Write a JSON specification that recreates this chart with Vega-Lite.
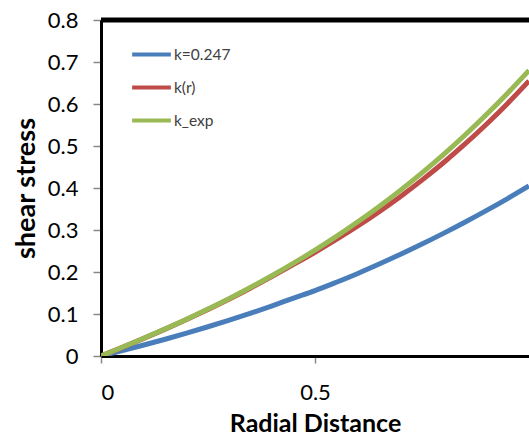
{
  "$schema": "https://vega.github.io/schema/vega-lite/v6.json",
  "width": 428,
  "height": 336,
  "autosize": {"type": "none"},
  "padding": {"left": 101, "top": 20, "right": 0, "bottom": 79},
  "background": "white",
  "config": {
    "view": {"stroke": null},
    "font": "Lato",
    "axis": {
      "grid": false,
      "domainColor": "black",
      "domainWidth": 3,
      "tickColor": "#888888",
      "tickWidth": 1.5,
      "labelFont": "Lato",
      "labelFontSize": 22,
      "labelColor": "black",
      "titleFont": "Lato",
      "titleFontWeight": "bold",
      "titleColor": "black"
    }
  },
  "datasets": {
    "curves": [
      {"r": 0, "tau": 0, "series": "k=0.247"},
      {"r": 0.05, "tau": 0.0128, "series": "k=0.247"},
      {"r": 0.1, "tau": 0.0261, "series": "k=0.247"},
      {"r": 0.15, "tau": 0.0399, "series": "k=0.247"},
      {"r": 0.2, "tau": 0.0544, "series": "k=0.247"},
      {"r": 0.25, "tau": 0.0696, "series": "k=0.247"},
      {"r": 0.3, "tau": 0.0855, "series": "k=0.247"},
      {"r": 0.35, "tau": 0.1021, "series": "k=0.247"},
      {"r": 0.4, "tau": 0.1195, "series": "k=0.247"},
      {"r": 0.45, "tau": 0.1378, "series": "k=0.247"},
      {"r": 0.5, "tau": 0.1555, "series": "k=0.247"},
      {"r": 0.55, "tau": 0.1755, "series": "k=0.247"},
      {"r": 0.6, "tau": 0.1965, "series": "k=0.247"},
      {"r": 0.65, "tau": 0.2189, "series": "k=0.247"},
      {"r": 0.7, "tau": 0.2422, "series": "k=0.247"},
      {"r": 0.75, "tau": 0.2665, "series": "k=0.247"},
      {"r": 0.8, "tau": 0.292, "series": "k=0.247"},
      {"r": 0.85, "tau": 0.3185, "series": "k=0.247"},
      {"r": 0.9, "tau": 0.3461, "series": "k=0.247"},
      {"r": 0.95, "tau": 0.3749, "series": "k=0.247"},
      {"r": 1.0, "tau": 0.405, "series": "k=0.247"},
      {"r": 0, "tau": 0, "series": "k(r)"},
      {"r": 0.05, "tau": 0.0206, "series": "k(r)"},
      {"r": 0.1, "tau": 0.0419, "series": "k(r)"},
      {"r": 0.15, "tau": 0.064, "series": "k(r)"},
      {"r": 0.2, "tau": 0.0869, "series": "k(r)"},
      {"r": 0.25, "tau": 0.1108, "series": "k(r)"},
      {"r": 0.3, "tau": 0.1357, "series": "k(r)"},
      {"r": 0.35, "tau": 0.162, "series": "k(r)"},
      {"r": 0.4, "tau": 0.1895, "series": "k(r)"},
      {"r": 0.45, "tau": 0.218, "series": "k(r)"},
      {"r": 0.5, "tau": 0.247, "series": "k(r)"},
      {"r": 0.55, "tau": 0.2774, "series": "k(r)"},
      {"r": 0.6, "tau": 0.3095, "series": "k(r)"},
      {"r": 0.65, "tau": 0.3437, "series": "k(r)"},
      {"r": 0.7, "tau": 0.38, "series": "k(r)"},
      {"r": 0.75, "tau": 0.4188, "series": "k(r)"},
      {"r": 0.8, "tau": 0.4601, "series": "k(r)"},
      {"r": 0.85, "tau": 0.5042, "series": "k(r)"},
      {"r": 0.9, "tau": 0.5512, "series": "k(r)"},
      {"r": 0.95, "tau": 0.6014, "series": "k(r)"},
      {"r": 1.0, "tau": 0.655, "series": "k(r)"},
      {"r": 0, "tau": 0, "series": "k_exp"},
      {"r": 0.05, "tau": 0.0209, "series": "k_exp"},
      {"r": 0.1, "tau": 0.0424, "series": "k_exp"},
      {"r": 0.15, "tau": 0.0646, "series": "k_exp"},
      {"r": 0.2, "tau": 0.0877, "series": "k_exp"},
      {"r": 0.25, "tau": 0.1119, "series": "k_exp"},
      {"r": 0.3, "tau": 0.1371, "series": "k_exp"},
      {"r": 0.35, "tau": 0.1637, "series": "k_exp"},
      {"r": 0.4, "tau": 0.1916, "series": "k_exp"},
      {"r": 0.45, "tau": 0.221, "series": "k_exp"},
      {"r": 0.5, "tau": 0.252, "series": "k_exp"},
      {"r": 0.55, "tau": 0.2848, "series": "k_exp"},
      {"r": 0.6, "tau": 0.3195, "series": "k_exp"},
      {"r": 0.65, "tau": 0.3562, "series": "k_exp"},
      {"r": 0.7, "tau": 0.395, "series": "k_exp"},
      {"r": 0.75, "tau": 0.4361, "series": "k_exp"},
      {"r": 0.8, "tau": 0.4796, "series": "k_exp"},
      {"r": 0.85, "tau": 0.5256, "series": "k_exp"},
      {"r": 0.9, "tau": 0.5743, "series": "k_exp"},
      {"r": 0.95, "tau": 0.6257, "series": "k_exp"},
      {"r": 1.0, "tau": 0.68, "series": "k_exp"}
    ]
  },
  "layer": [
    {
      "data": {"name": "curves"},
      "mark": {"type": "line", "strokeWidth": 5, "clip": true, "interpolate": "monotone"},
      "encoding": {
        "x": {
          "field": "r",
          "type": "quantitative",
          "scale": {"domain": [0, 1], "nice": false},
          "axis": {
            "values": [0, 0.5],
            "format": "~g",
            "title": "Radial Distance",
            "titleFontSize": 25,
            "titlePadding": 8,
            "tickSize": 7,
            "labelPadding": 19
          }
        },
        "y": {
          "field": "tau",
          "type": "quantitative",
          "scale": {"domain": [0, 0.8], "nice": false},
          "axis": {
            "values": [0, 0.1, 0.2, 0.3, 0.4, 0.5, 0.6, 0.7, 0.8],
            "format": "~g",
            "title": "shear stress",
            "titleFontSize": 27,
            "titlePadding": 7,
            "tickSize": 8,
            "labelPadding": 15
          }
        },
        "color": {
          "field": "series",
          "type": "nominal",
          "scale": {
            "domain": ["k=0.247", "k(r)", "k_exp"],
            "range": ["#4A7EBB", "#BE4B48", "#98B954"]
          },
          "legend": {
            "title": null,
            "orient": "none",
            "legendX": 29,
            "legendY": 18,
            "symbolType": "stroke",
            "symbolSize": 1500,
            "symbolStrokeWidth": 4,
            "labelFont": "Lato",
            "labelFontSize": 15.5,
            "labelColor": "#404040",
            "labelOffset": 1,
            "rowPadding": 0,
            "clipHeight": 33,
            "padding": 0
          }
        }
      }
    },
    {
      "data": {"values": [{"top": 0.8}]},
      "mark": {"type": "rule", "color": "black", "strokeWidth": 5},
      "encoding": {"y": {"field": "top", "type": "quantitative"}}
    }
  ]
}
